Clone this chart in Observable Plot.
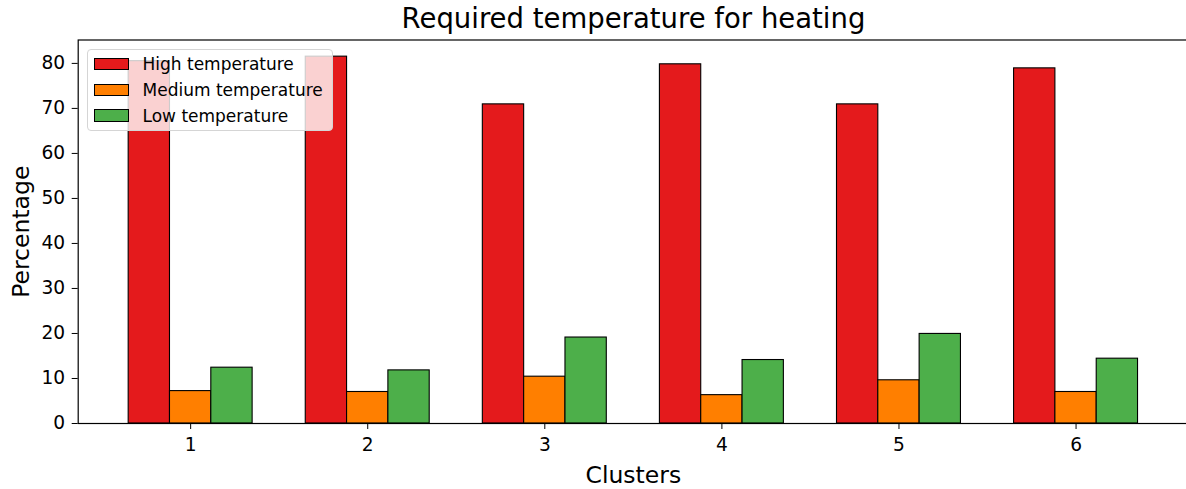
<!DOCTYPE html>
<html>
<head>
<meta charset="utf-8">
<script src="https://cdn.jsdelivr.net/npm/d3@7"></script>
<script src="https://cdn.jsdelivr.net/npm/@observablehq/plot@0.6"></script>
<style>
  html, body { margin: 0; padding: 0; background: #fff; overflow: hidden; }
  #wrap { position: relative; width: 1186px; height: 489px; overflow: hidden; font-family: "DejaVu Sans", sans-serif; }
  #title { height: 36px; width: 1189px; box-sizing: border-box; padding-left: 78px; text-align: center;
           font-size: 27.5px; line-height: 37px; color: #000; white-space: nowrap; }
  #chart { width: 1189px; }
  #chart svg { font-family: "DejaVu Sans", sans-serif; overflow: visible; max-width: none !important; }
  #chart g[aria-label="y-axis tick label"] text,
  #chart g[aria-label="x-axis tick label"] text { font-size: 18.6px; fill: #000; }
  #chart g[aria-label="y-axis label"] text,
  #chart g[aria-label="x-axis label"] text { font-size: 23.5px; fill: #000; }
  #legend { position: absolute; left: 86.5px; top: 49px; width: 246px; height: 82px; box-sizing: border-box;
            background: rgba(255,255,255,0.8); border: 1px solid #d5d5d5; border-radius: 4px; }
  .item { position: absolute; left: 6px; height: 20px; display: flex; align-items: center; }
  .swatch { width: 35px; height: 12.5px; box-sizing: border-box; border: 1px solid #000; margin-right: 14px; }
  .item span { font-size: 17px; color: #000; white-space: nowrap; }
</style>
</head>
<body>
<div id="wrap">
  <div id="title">Required temperature for heating</div>
  <div id="chart"></div>
  <div id="legend"></div>
</div>
<script>
// Share of heating demand by required supply temperature, per cluster
const clusters = [1, 2, 3, 4, 5, 6];
const seriesNames = ["High temperature", "Medium temperature", "Low temperature"];
const seriesColors = ["#e41a1c", "#ff7f00", "#4daf4a"];
const highTemp = [80.5, 81.5, 70.9, 79.8, 70.9, 78.9];
const mediumTemp = [7.2, 7.0, 10.4, 6.3, 9.6, 7.0];
const lowTemp = [12.4, 11.8, 19.1, 14.1, 19.9, 14.4];
const yTicks = [0, 10, 20, 30, 40, 50, 60, 70, 80];

// Grouped bars: three bars side by side around each cluster position
const barWidth = 0.7 / 3;
const seriesValues = [highTemp, mediumTemp, lowTemp];
const rows = [];
seriesNames.forEach((name, k) => {
  clusters.forEach((c, i) => {
    rows.push({cluster: c, series: name, k, value: seriesValues[k][i]});
  });
});

const chart = Plot.plot({
  width: 1189,
  height: 453,
  marginTop: 3.5,
  marginBottom: 66,
  marginLeft: 77.7,
  marginRight: 1,
  x: {type: "linear", domain: [0.365, 6.635]},
  y: {domain: [0, 85.2]},
  color: {domain: seriesNames, range: seriesColors},
  marks: [
    Plot.rectY(rows, {
      x1: d => d.cluster + (d.k - 1.5) * barWidth,
      x2: d => d.cluster + (d.k - 0.5) * barWidth,
      y: "value",
      fill: "series",
      stroke: "#000",
      strokeWidth: 1.1
    }),
    Plot.frame({stroke: "#000", strokeWidth: 1.2}),
    Plot.axisY({ticks: yTicks, tickSize: 6, tickPadding: 7, tickFormat: d3.format("d"),
                label: "Percentage", labelAnchor: "center", labelOffset: 66, labelArrow: false}),
    Plot.axisX({ticks: clusters, tickSize: 6, tickPadding: 8, tickFormat: d3.format("d"),
                label: "Clusters", labelAnchor: "center", labelOffset: 59, labelArrow: false})
  ]
});
document.getElementById("chart").appendChild(chart);

// Legend box overlaid in the upper-left corner of the axes
const legend = document.getElementById("legend");
seriesNames.forEach((name, k) => {
  const item = document.createElement("div");
  item.className = "item";
  item.style.top = (4 + k * 25.8) + "px";
  const sw = document.createElement("div");
  sw.className = "swatch";
  sw.style.background = seriesColors[k];
  const label = document.createElement("span");
  label.textContent = name;
  item.appendChild(sw);
  item.appendChild(label);
  legend.appendChild(item);
});
</script>
</body>
</html>
